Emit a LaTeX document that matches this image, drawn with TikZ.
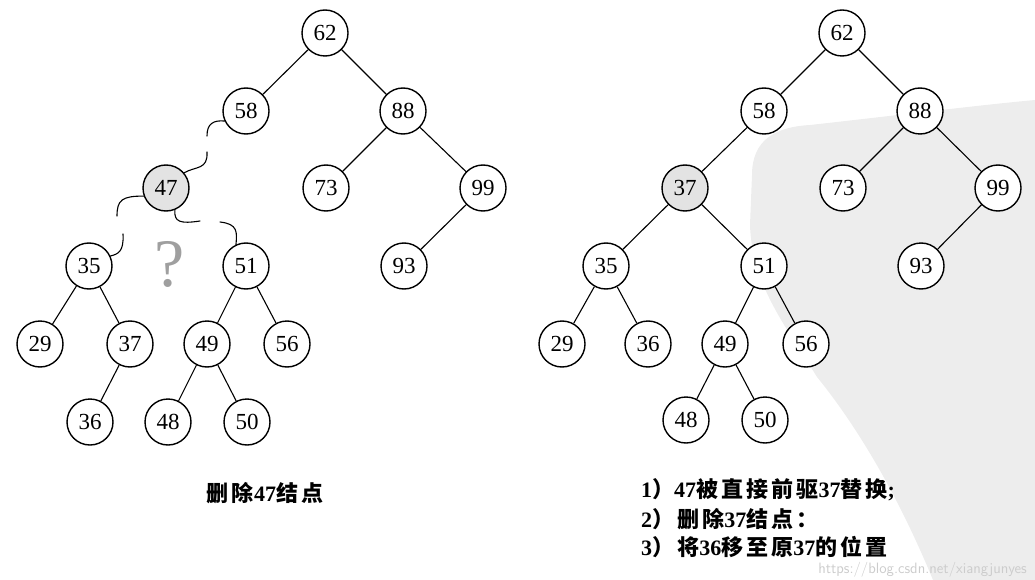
\documentclass[tikz,border=0pt]{standalone}
\usepackage{fontspec}
\setmainfont{Liberation Serif}
\newfontfamily\cjk{Noto Sans CJK SC}[LetterSpace=14]
\usetikzlibrary{positioning}
\tikzset{
  keynode/.style={circle,draw=black,line width=1.4pt,fill=white,
    minimum size=46pt,inner sep=0pt,font=\fontsize{23}{23}\selectfont},
  delnode/.style={keynode,fill=gray!22},
  treeline/.style={line width=1.1pt,draw=black},
  brokenline/.style={line width=1.1pt,draw=black,line cap=round},
  caption/.style={font=\fontsize{22}{22}\selectfont\bfseries,inner sep=0pt},
}

\begin{document}
\begin{tikzpicture}[x=1pt,y=-1pt,on grid]
  \useasboundingbox (0,0) rectangle (1035,580);
  % watermark backdrop
  \fill[gray!14] (752,175) .. controls (752,140) and (775,127) .. (810,125)
    .. controls (900,115) and (980,105) .. (1035,100) -- (1035,580) -- (933,580)
    .. controls (900,500) and (860,430) .. (817,377)
    .. controls (785,325) and (752,285) .. (750,225) -- cycle;

  % left tree: deleting 47
  \node[keynode] (l62) at (325,33) {62};
  \node[keynode, below left=78pt and 79pt of l62]  (l58) {58};
  \node[keynode, below right=78pt and 78pt of l62] (l88) {88};
  \node[delnode, below left=77pt and 80pt of l58]  (l47) {47};
  \node[keynode, below left=77pt and 77pt of l88]  (l73) {73};
  \node[keynode, below right=77pt and 80pt of l88] (l99) {99};
  \node[keynode, below left=78pt and 77pt of l47]  (l35) {35};
  \node[keynode, below right=78pt and 80pt of l47] (l51) {51};
  \node[keynode, below left=78pt and 79pt of l99]  (l93) {93};
  \node[keynode, below left=78pt and 49pt of l35]  (l29) {29};
  \node[keynode, below right=78pt and 41pt of l35] (l37) {37};
  \node[keynode, below left=78pt and 39pt of l51]  (l49) {49};
  \node[keynode, below right=78pt and 41pt of l51] (l56) {56};
  \node[keynode, below left=78pt and 40pt of l37]  (l36) {36};
  \node[keynode, below left=78pt and 39pt of l49]  (l48) {48};
  \node[keynode, below right=78pt and 40pt of l49] (l50) {50};
  \node[text=gray!75,font=\fontsize{68}{68}\selectfont] (qmark) at (170,264) {?};
  \node[caption] (lcap) at (265,493) {{\cjk 删除}47{\cjk 结点}};

  \draw[treeline] (l62) -- (l58);
  \draw[treeline] (l62) -- (l88);
  \draw[treeline] (l88) -- (l73);
  \draw[treeline] (l88) -- (l99);
  \draw[treeline] (l99) -- (l93);
  \draw[treeline] (l35) -- (l29);
  \draw[treeline] (l35) -- (l37);
  \draw[treeline] (l37) -- (l36);
  \draw[treeline] (l51) -- (l49);
  \draw[treeline] (l51) -- (l56);
  \draw[treeline] (l49) -- (l48);
  \draw[treeline] (l49) -- (l50);
  % broken links round 47
  \coordinate (b1a) at (207,136);
  \coordinate (b1b) at (207,152);
  \coordinate (b2a) at (117,216);
  \coordinate (b2b) at (123,234);
  \coordinate (b3a) at (200,221);
  \coordinate (b3b) at (220,222);
  \draw[brokenline] (l58.205) .. controls (213,120) and (207,124) .. (b1a);
  \draw[brokenline] (b1b) .. controls (208,170) and (196,166) .. (l47.40);
  \draw[brokenline] (l47.200) .. controls (122,196) and (117,200) .. (b2a);
  \draw[brokenline] (b2b) .. controls (124,252) and (118,254) .. (l35.25);
  \draw[brokenline] (l47.-68) .. controls (174,222) and (180,224) .. (b3a);
  \draw[brokenline] (b3b) .. controls (238,224) and (237,232) .. (l51.115);

  % right tree: 37 takes the place of 47
  \node[keynode] (r62) at (842,33) {62};
  \node[keynode, below left=78pt and 78pt of r62]  (r58) {58};
  \node[keynode, below right=78pt and 78pt of r62] (r88) {88};
  \node[delnode, below left=77pt and 79pt of r58]  (r37) {37};
  \node[keynode, below left=77pt and 77pt of r88]  (r73) {73};
  \node[keynode, below right=77pt and 78pt of r88] (r99) {99};
  \node[keynode, below left=78pt and 79pt of r37]  (r35) {35};
  \node[keynode, below right=78pt and 79pt of r37] (r51) {51};
  \node[keynode, below left=78pt and 77pt of r99]  (r93) {93};
  \node[keynode, below left=78pt and 44pt of r35]  (r29) {29};
  \node[keynode, below right=78pt and 42pt of r35] (r36) {36};
  \node[keynode, below left=78pt and 39pt of r51]  (r49) {49};
  \node[keynode, below right=78pt and 42pt of r51] (r56) {56};
  \node[keynode, below left=76pt and 39pt of r49]  (r48) {48};
  \node[keynode, below right=76pt and 40pt of r49] (r50) {50};

  \draw[treeline] (r62) -- (r58);
  \draw[treeline] (r62) -- (r88);
  \draw[treeline] (r58) -- (r37);
  \draw[treeline] (r88) -- (r73);
  \draw[treeline] (r88) -- (r99);
  \draw[treeline] (r37) -- (r35);
  \draw[treeline] (r37) -- (r51);
  \draw[treeline] (r99) -- (r93);
  \draw[treeline] (r35) -- (r29);
  \draw[treeline] (r35) -- (r36);
  \draw[treeline] (r51) -- (r49);
  \draw[treeline] (r51) -- (r56);
  \draw[treeline] (r49) -- (r48);
  \draw[treeline] (r49) -- (r50);

  \node[caption, anchor=west] (step1) at (641,490) {1{\cjk ）}47{\cjk 被直接前驱}37{\cjk 替换};};
  \node[caption, anchor=west] (step2) at (641,519) {2{\cjk ）删除}37{\cjk 结点：}};
  \node[caption, anchor=west] (step3) at (641,547) {3{\cjk ）将}36{\cjk 移至原}37{\cjk 的位置}};
  \node[text=gray!40,font=\fontsize{15}{15}\sffamily,anchor=east,inner sep=0pt] (wmark) at (1027,570) {https://blog.csdn.net/xiangjunyes};
\end{tikzpicture}
\end{document}
